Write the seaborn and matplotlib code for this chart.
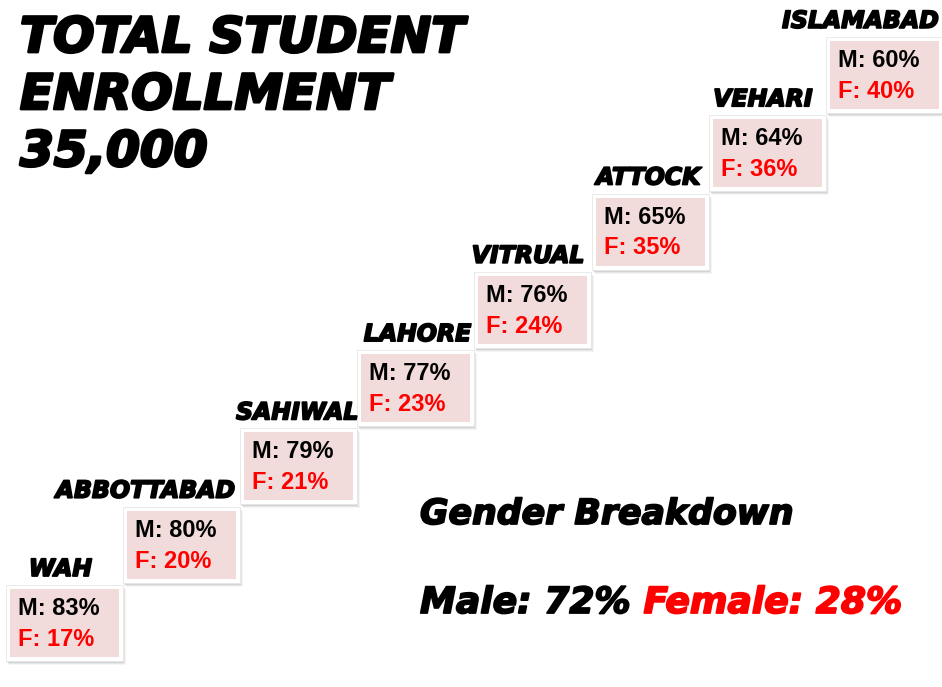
import matplotlib
matplotlib.use("Agg")
import matplotlib.pyplot as plt
import matplotlib.patheffects as pe
from matplotlib.patches import Rectangle
import seaborn as sns

# campus data, bottom step to top step
cities = ["WAH", "ABBOTTABAD", "SAHIWAL", "LAHORE", "VITRUAL", "ATTOCK", "VEHARI", "ISLAMABAD"]
male = [83, 80, 79, 77, 76, 65, 64, 60]
female = [17, 20, 21, 23, 24, 35, 36, 40]

title_lines = ["TOTAL STUDENT", "ENROLLMENT", "35,000"]
overall_male = 72
overall_female = 28

# layout (pixels)
label_shift = [-31, -5, 1, -3, -7, -8, -13, -4]

sns.set_theme(style="white")
plt.rcParams["font.family"] = ["DejaVu Sans"]

fig = plt.figure(figsize=(9.42, 6.87), dpi=100)
ax = fig.add_axes([0, 0, 1, 1])
ax.set_xlim(0, 942)
ax.set_ylim(687, 0)
ax.axis("off")

W, H = 117, 76
x0, y0 = 6, 585
dx, dy = 117.1, 78.3
pink = "#f2dcdb"
red = "#ff0000"
heavy = [pe.withStroke(linewidth=1.3, foreground="black")]
heavy_red = [pe.withStroke(linewidth=1.3, foreground=red)]

for i, city in enumerate(cities):
    x = x0 + dx * i
    y = y0 - dy * i
    # soft shadow
    for k, a in [(4, 0.08), (3, 0.12), (2, 0.18)]:
        ax.add_patch(Rectangle((x + k - 1, y + k), W, H, facecolor="#808080",
                               edgecolor="none", alpha=a, zorder=1))
    ax.add_patch(Rectangle((x, y), W, H, facecolor="white", edgecolor="#e6e6e6",
                           lw=0.6, zorder=2))
    ax.add_patch(Rectangle((x + 4, y + 4), W - 8, H - 8, facecolor=pink,
                           edgecolor="none", zorder=3))
    ax.text(x + 12, y + 30, f"M: {male[i]}%", fontsize=17, fontweight="bold",
            family="Liberation Sans", color="black", va="baseline", zorder=4)
    ax.text(x + 12, y + 61, f"F: {female[i]}%", fontsize=17, fontweight="bold",
            family="Liberation Sans", color=red, va="baseline", zorder=4)
    ax.text(x + W + label_shift[i], y - 9, city, fontsize=17, fontweight="bold",
            fontstyle="italic", ha="right", va="baseline", color="black", zorder=4,
            path_effects=heavy)

for j, line in enumerate(title_lines):
    ax.text(20, 52 + j * 57, line, fontsize=35, fontweight="bold", fontstyle="italic",
            va="baseline", color="black",
            path_effects=[pe.withStroke(linewidth=2, foreground="black")])

ax.text(420, 524, "Gender Breakdown", fontsize=25, fontweight="bold",
        fontstyle="italic", va="baseline", color="black", path_effects=heavy)
t = ax.text(420, 613, f"Male: {overall_male}% ", fontsize=26, fontweight="bold",
            fontstyle="italic", va="baseline", color="black", path_effects=heavy)
fig.canvas.draw()
bb = t.get_window_extent().transformed(ax.transData.inverted())
ax.text(bb.x1, 613, f"Female: {overall_female}%", fontsize=26, fontweight="bold",
        fontstyle="italic", va="baseline", color=red, path_effects=heavy_red)

fig.savefig("out.png", dpi=100)
